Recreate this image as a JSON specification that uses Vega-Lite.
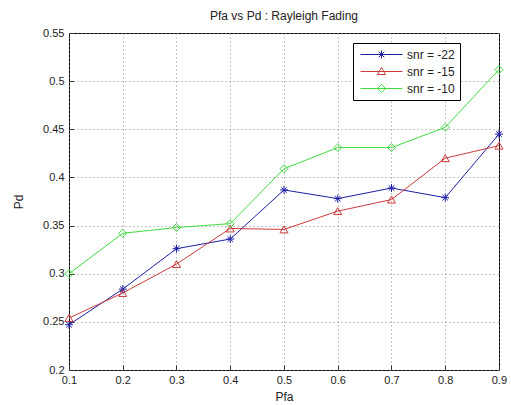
{
  "$schema": "https://vega.github.io/schema/vega-lite/v6.json",
  "width": 430,
  "height": 337,
  "autosize": {"type": "none"},
  "padding": {"left": 69, "top": 33, "right": 12, "bottom": 35},
  "background": "white",
  "config": {
    "font": "Liberation Sans",
    "view": {"stroke": "black", "strokeWidth": 1},
    "axis": {
      "domain": false,
      "grid": true,
      "gridColor": "#888888",
      "gridDash": [1, 3],
      "gridOpacity": 1,
      "tickColor": "#333333",
      "tickSize": -5,
      "labelFlush": false,
      "labelFontSize": 11,
      "labelColor": "#222222",
      "titleFontSize": 12,
      "titleFontWeight": "normal",
      "titleColor": "#222222"
    },
    "legend": {
      "title": null,
      "orient": "none",
      "legendX": 284,
      "legendY": 10,
      "strokeColor": "black",
      "fillColor": "white",
      "padding": 5,
      "labelFontSize": 12,
      "labelColor": "#222222",
      "symbolSize": 144,
      "symbolStrokeWidth": 1,
      "rowPadding": 4,
      "labelOffset": 36
    }
  },
  "title": {"text": "Pfa vs Pd : Rayleigh Fading", "fontSize": 12, "fontWeight": "normal", "color": "#222222", "offset": 4},
  "data": {
    "values": [
      {"pfa": 0.1, "pd": 0.247, "series": "snr = -22"},
      {"pfa": 0.2, "pd": 0.284, "series": "snr = -22"},
      {"pfa": 0.3, "pd": 0.326, "series": "snr = -22"},
      {"pfa": 0.4, "pd": 0.336, "series": "snr = -22"},
      {"pfa": 0.5, "pd": 0.387, "series": "snr = -22"},
      {"pfa": 0.6, "pd": 0.378, "series": "snr = -22"},
      {"pfa": 0.7, "pd": 0.389, "series": "snr = -22"},
      {"pfa": 0.8, "pd": 0.379, "series": "snr = -22"},
      {"pfa": 0.9, "pd": 0.445, "series": "snr = -22"},
      {"pfa": 0.1, "pd": 0.254, "series": "snr = -15"},
      {"pfa": 0.2, "pd": 0.280, "series": "snr = -15"},
      {"pfa": 0.3, "pd": 0.310, "series": "snr = -15"},
      {"pfa": 0.4, "pd": 0.347, "series": "snr = -15"},
      {"pfa": 0.5, "pd": 0.346, "series": "snr = -15"},
      {"pfa": 0.6, "pd": 0.365, "series": "snr = -15"},
      {"pfa": 0.7, "pd": 0.377, "series": "snr = -15"},
      {"pfa": 0.8, "pd": 0.420, "series": "snr = -15"},
      {"pfa": 0.9, "pd": 0.433, "series": "snr = -15"},
      {"pfa": 0.1, "pd": 0.300, "series": "snr = -10"},
      {"pfa": 0.2, "pd": 0.342, "series": "snr = -10"},
      {"pfa": 0.3, "pd": 0.348, "series": "snr = -10"},
      {"pfa": 0.4, "pd": 0.352, "series": "snr = -10"},
      {"pfa": 0.5, "pd": 0.409, "series": "snr = -10"},
      {"pfa": 0.6, "pd": 0.431, "series": "snr = -10"},
      {"pfa": 0.7, "pd": 0.431, "series": "snr = -10"},
      {"pfa": 0.8, "pd": 0.452, "series": "snr = -10"},
      {"pfa": 0.9, "pd": 0.512, "series": "snr = -10"}
    ]
  },
  "encoding": {
    "x": {
      "field": "pfa", "type": "quantitative",
      "scale": {"domain": [0.1, 0.9], "nice": false, "zero": false},
      "axis": {"values": [0.1, 0.2, 0.3, 0.4, 0.5, 0.6, 0.7, 0.8, 0.9], "format": ".1f", "title": "Pfa", "labelPadding": 9, "titleY": 21}
    },
    "y": {
      "field": "pd", "type": "quantitative",
      "scale": {"domain": [0.2, 0.55], "nice": false, "zero": false},
      "axis": {"values": [0.2, 0.25, 0.3, 0.35, 0.4, 0.45, 0.5, 0.55], "format": ".2~f", "title": "Pd", "labelPadding": 10, "titleX": -44}
    },
    "color": {
      "field": "series", "type": "nominal",
      "scale": {"domain": ["snr = -22", "snr = -15", "snr = -10"], "range": ["#1f1fa6", "#cc3b3b", "#3fdc3f"]},
      "legend": {
        "symbolType": "M-0.67,0H6.33",
        "encode": {
          "symbols": {
            "update": {
              "shape": {"signal": "datum.value === 'snr = -22' ? 'M-0.67,0H6.33M2.83,-0.67V0.67M2.36,-0.47L3.3,0.47M2.36,0.47L3.3,-0.47' : datum.value === 'snr = -15' ? 'M-0.67,0H6.33M2.83,-0.67L3.5,0.5L2.16,0.5Z' : 'M-0.67,0H6.33M2.83,-0.67L3.5,0L2.83,0.67L2.16,0Z'"},
              "fill": {"value": "transparent"}
            }
          }
        }
      }
    }
  },
  "layer": [
    {
      "mark": {"type": "line", "strokeWidth": 1}
    },
    {
      "transform": [{"filter": "datum.series === 'snr = -22'"}],
      "mark": {"type": "point", "filled": false, "size": 64, "strokeWidth": 1, "opacity": 1, "shape": "M-1,0H1M0,-1V1M-0.7,-0.7L0.7,0.7M-0.7,0.7L0.7,-0.7"}
    },
    {
      "transform": [{"filter": "datum.series === 'snr = -15'"}],
      "mark": {"type": "point", "filled": false, "size": 64, "strokeWidth": 1, "opacity": 1, "shape": "triangle-up"}
    },
    {
      "transform": [{"filter": "datum.series === 'snr = -10'"}],
      "mark": {"type": "point", "filled": false, "size": 64, "strokeWidth": 1, "opacity": 1, "shape": "diamond"}
    }
  ]
}
